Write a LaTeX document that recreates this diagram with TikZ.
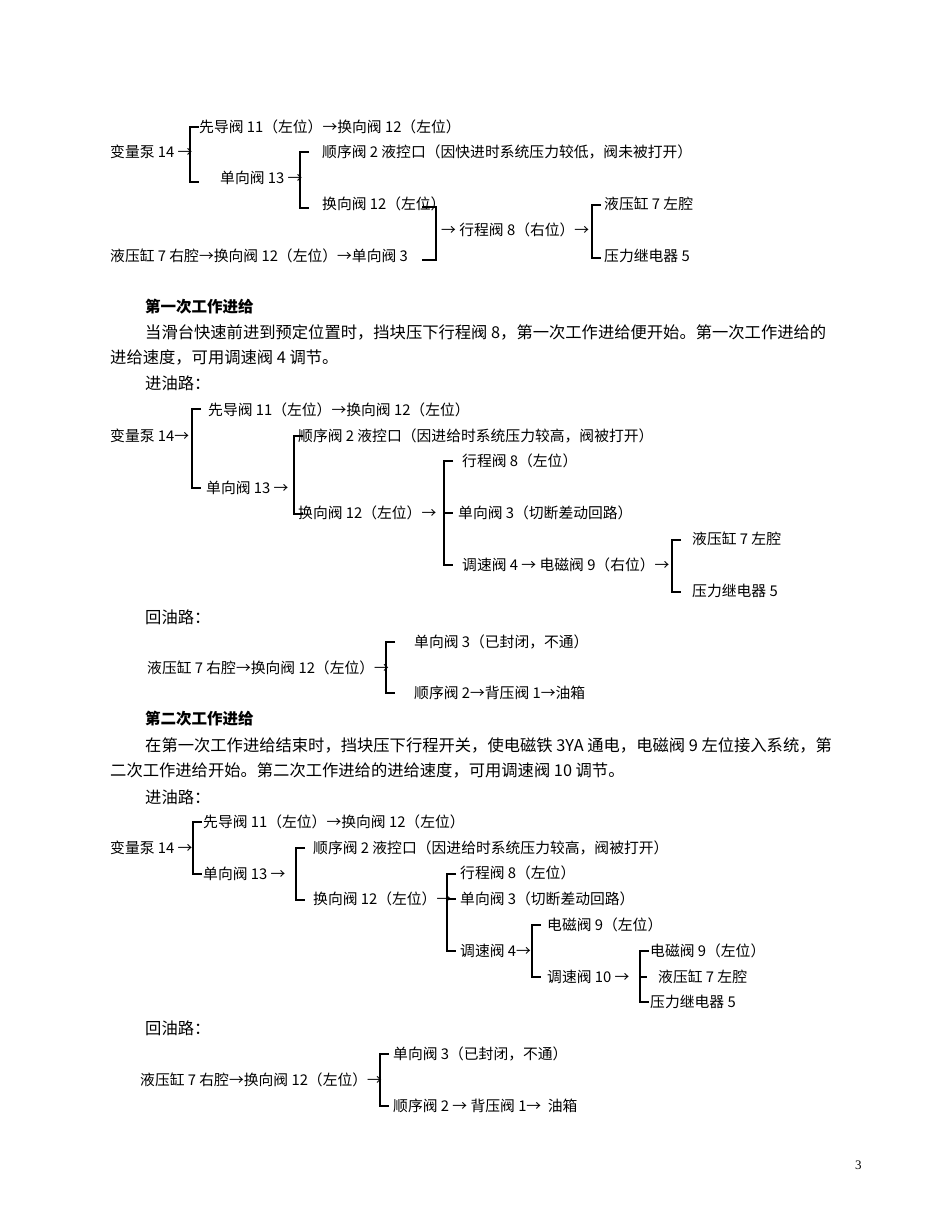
\documentclass[tikz,border=0pt]{standalone}
\usepackage{fontspec}
\setmainfont{Liberation Serif}
\newfontfamily\cjk{Noto Sans CJK SC}
\begin{document}
\begin{tikzpicture}[x=1pt,y=-1pt,
  t/.style={anchor=west,inner sep=0pt,font=\cjk\fontsize{14.8}{16}\selectfont},
  p/.style={anchor=west,inner sep=0pt,font=\cjk\fontsize{16.3}{18}\selectfont},
  h/.style={anchor=west,inner sep=0pt,font=\cjk\bfseries\fontsize{15.5}{18}\selectfont},
  br/.style={line width=1.4pt}]
\useasboundingbox (0,0) rectangle (950,1230);
\newcommand\brk[3]{\draw[br] (#1+9,#2) -- (#1,#2) -- (#1,#3) -- (#1+9,#3);}
\newcommand\brl[3]{\draw[br] (#1-14,#2) -- (#1,#2) -- (#1,#3) -- (#1-14,#3);}
% section 1
\node[t] (a1) at (110,152) {变量泵 14 →};
\brk{190}{127}{182}
\node[t] (a2) at (199,127) {先导阀 11（左位）→换向阀 12（左位）};
\node[t] (a3) at (220,178) {单向阀 13 →};
\brk{300}{152}{208}
\node[t] (a4) at (322,152) {顺序阀 2 液控口（因快进时系统压力较低，阀未被打开）};
\node[t] (a5) at (322,204) {换向阀 12（左位）};
\brl{436}{207}{260}
\node[t] (a6) at (441,230) {→ 行程阀 8（右位）→};
\brk{592}{205}{258}
\node[t] (a7) at (604,204) {液压缸 7 左腔};
\node[t] (a8) at (604,256) {压力继电器 5};
\node[t] (a9) at (110,256) {液压缸 7 右腔→换向阀 12（左位）→单向阀 3};
% text
\node[h] (h1) at (145,307) {第一次工作进给};
\node[p] (p1) at (145,332) {当滑台快速前进到预定位置时，挡块压下行程阀 8，第一次工作进给便开始。第一次工作进给的};
\node[p] (p2) at (110,357) {进给速度，可用调速阀 4 调节。};
\node[p] (p3) at (145,383) {进油路：};
% section 2
\node[t] (b1) at (110,436) {变量泵 14→};
\brk{192}{409}{488}
\node[t] (b2) at (208,410) {先导阀 11（左位）→换向阀 12（左位）};
\node[t] (b3) at (206,488) {单向阀 13 →};
\brk{294}{436}{514}
\node[t] (b4) at (298,436) {顺序阀 2 液控口（因进给时系统压力较高，阀被打开）};
\node[t] (b5) at (298,513) {换向阀 12（左位）→};
\brk{444}{461}{565}
\draw[br] (444,513) -- (453,513);
\node[t] (b6) at (462,461) {行程阀 8（左位）};
\node[t] (b7) at (458,513) {单向阀 3（切断差动回路）};
\node[t] (b8) at (462,565) {调速阀 4 → 电磁阀 9（右位）→};
\brk{672}{540}{592}
\node[t] (b9) at (692,539) {液压缸 7 左腔};
\node[t] (b10) at (692,591) {压力继电器 5};
\node[p] (p4) at (145,617) {回油路：};
\node[t] (c1) at (147,668) {液压缸 7 右腔→换向阀 12（左位）→};
\brk{386}{642}{693}
\node[t] (c2) at (414,642) {单向阀 3（已封闭，不通）};
\node[t] (c3) at (414,693) {顺序阀 2→背压阀 1→油箱};
% text
\node[h] (h2) at (145,719) {第二次工作进给};
\node[p] (p5) at (145,745) {在第一次工作进给结束时，挡块压下行程开关，使电磁铁 3YA 通电，电磁阀 9 左位接入系统，第};
\node[p] (p6) at (110,770) {二次工作进给开始。第二次工作进给的进给速度，可用调速阀 10 调节。};
\node[p] (p7) at (145,797) {进油路：};
% section 3
\node[t] (d1) at (110,848) {变量泵 14 →};
\brk{193}{822}{874}
\node[t] (d2) at (203,822) {先导阀 11（左位）→换向阀 12（左位）};
\node[t] (d3) at (203,874) {单向阀 13 →};
\brk{296}{848}{900}
\node[t] (d4) at (313,848) {顺序阀 2 液控口（因进给时系统压力较高，阀被打开）};
\node[t] (d5) at (313,899) {换向阀 12（左位）→};
\brk{447}{874}{951}
\draw[br] (447,899) -- (456,899);
\node[t] (d6) at (460,873) {行程阀 8（左位）};
\node[t] (d7) at (460,899) {单向阀 3（切断差动回路）};
\node[t] (d8) at (460,951) {调速阀 4→};
\brk{532}{925}{977}
\node[t] (d9) at (547,925) {电磁阀 9（左位）};
\node[t] (d10) at (547,977) {调速阀 10 →};
\brk{640}{951}{1002}
\draw[br] (640,977) -- (647,977);
\node[t] (d11) at (650,951) {电磁阀 9（左位）};
\node[t] (d12) at (658,977) {液压缸 7 左腔};
\node[t] (d13) at (650,1002) {压力继电器 5};
\node[p] (p8) at (145,1028) {回油路：};
\node[t] (e1) at (140,1080) {液压缸 7 右腔→换向阀 12（左位）→};
\brk{380}{1054}{1106}
\node[t] (e2) at (393,1054) {单向阀 3（已封闭，不通）};
\node[t] (e3) at (393,1106) {顺序阀 2 → 背压阀 1→ \ 油箱};
\node[anchor=west,inner sep=0pt,font=\fontsize{13}{14}\selectfont] (pg) at (855,1165) {3};
\end{tikzpicture}
\end{document}
